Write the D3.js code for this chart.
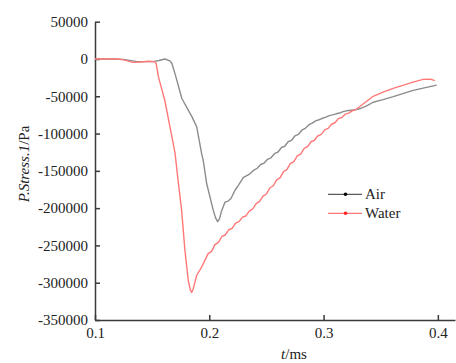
<!DOCTYPE html>
<html>
<head>
<meta charset="utf-8">
<script src="https://cdn.jsdelivr.net/npm/d3@7"></script>
<style>
  body { margin: 0; background: #fff; }
</style>
</head>
<body>
<script>
// air series (gray)
var airT = [0.100, 0.115, 0.125, 0.137, 0.151, 0.156, 0.1612, 0.1656, 0.1673, 0.1708, 0.176, 0.1816, 0.185, 0.189, 0.1933, 0.1947, 0.1977, 0.2035, 0.2055, 0.2073, 0.209, 0.2105,
            0.2137, 0.2165, 0.219, 0.2225, 0.226, 0.2297, 0.232, 0.2356, 0.239, 0.242, 0.245, 0.248, 0.251, 0.254, 0.257, 0.260, 0.263, 0.266, 0.269, 0.272, 0.275, 0.278,
            0.281, 0.284, 0.287, 0.290, 0.293, 0.296, 0.299, 0.302, 0.305, 0.308, 0.311, 0.314, 0.317, 0.320, 0.3283, 0.333, 0.3377, 0.3434, 0.352, 0.361, 0.370, 0.3784, 0.390, 0.399];
var airP = [0, 0, -500, -3600, -3600, -2000, 0, -2500, -6000, -24000, -53000, -68500, -78000, -91000, -127000, -136000, -167000, -203000, -213000, -218000, -214000, -205000,
            -192000, -190500, -187000, -176000, -168000, -159000, -157000, -154000, -149000, -146500, -141500, -139500, -134500, -132500, -127000, -125000, -119000, -117000, -111000, -109000, -103000, -101000,
            -95500, -93000, -88500, -86000, -83000, -81500, -79500, -78000, -76000, -75000, -73500, -72500, -70500, -69500, -68000, -66000, -63000, -58000, -54500, -50500, -46000, -42000, -38000, -35000];

// water series (red)
var waterT = [0.100, 0.120, 0.126, 0.133, 0.140, 0.147, 0.152, 0.1535, 0.1555, 0.161, 0.1656, 0.170, 0.1725, 0.1758, 0.1787, 0.1816, 0.1835, 0.1846, 0.186, 0.189, 0.1933,
              0.199, 0.202, 0.205, 0.208, 0.211, 0.214, 0.217, 0.220, 0.223, 0.226, 0.229, 0.232, 0.235, 0.238, 0.241, 0.244, 0.247, 0.250, 0.253, 0.256, 0.259, 0.262,
              0.265, 0.268, 0.271, 0.274, 0.277, 0.280, 0.283, 0.286, 0.289, 0.292, 0.295, 0.298, 0.301, 0.304, 0.307, 0.310, 0.313, 0.316, 0.319, 0.322, 0.325, 0.328,
              0.334, 0.340, 0.3434, 0.352, 0.3609, 0.370, 0.3784, 0.3871, 0.3935, 0.3974];
var waterP = [0, 0, -1500, -4500, -4000, -3000, -3500, -6000, -24000, -55000, -91000, -126000, -160000, -203000, -257000, -297000, -310000, -313000, -308000, -290000, -279000,
              -261000, -258000, -249000, -246000, -238000, -236000, -229000, -227000, -220000, -218000, -212000, -210500, -204000, -201000, -194000, -191000, -184000, -181000, -173000, -170000, -162000, -159000,
              -151000, -148000, -140000, -137500, -130000, -127500, -120000, -117500, -111000, -109000, -103000, -101000, -95000, -93000, -87500, -85500, -80000, -78500, -74000, -72500, -69500, -68000,
              -61000, -54000, -50000, -44500, -39400, -35000, -31000, -27300, -27000, -29000];

var xTicks = [0.1, 0.2, 0.3, 0.4];
var yTicks = [50000, 0, -50000, -100000, -150000, -200000, -250000, -300000, -350000];
var seriesNames = ["Air", "Water"];
var seriesColors = ["#8c8c8c", "#ff7878"];
var legendColors = ["#333333", "#ff5555"];
var legendDots = ["#000000", "#ff2020"];

var serif = "'Liberation Serif', 'Times New Roman', 'DejaVu Serif', serif";

var w = 456, h = 363;
var svg = d3.select("body")
            .append("svg")
            .attr("width", w)
            .attr("height", h);

var x = d3.scaleLinear().domain([0.1, 0.415]).range([95, 455]);
var y = d3.scaleLinear().domain([-350000, 50000]).range([320, 21.7]);

var xAxis = svg.append("g")
    .attr("transform", "translate(0,320)")
    .call(d3.axisBottom(x).tickValues(xTicks).tickFormat(d3.format(".1f"))
        .tickSizeInner(-5).tickSizeOuter(0).tickPadding(7.5));

var yAxis = svg.append("g")
    .attr("transform", "translate(95,0)")
    .call(d3.axisLeft(y).tickValues(yTicks)
        .tickFormat(function(d) { return String(d); })
        .tickSizeInner(-5).tickSizeOuter(0).tickPadding(7));

[xAxis, yAxis].forEach(function(g) {
    g.selectAll("path, line").attr("stroke", "#3a3a3a").attr("stroke-width", 1.5);
    g.selectAll("text")
        .style("font-family", serif)
        .style("font-size", "15px")
        .attr("fill", "#222");
});

var line = d3.line()
    .x(function(d) { return x(d[0]); })
    .y(function(d) { return y(d[1]); });

var series = [d3.zip(airT, airP), d3.zip(waterT, waterP)];

svg.selectAll("path.series")
    .data(series)
    .enter()
    .append("path")
    .attr("class", "series")
    .attr("d", line)
    .attr("fill", "none")
    .attr("stroke", function(d, i) { return seriesColors[i]; })
    .attr("stroke-width", 1.4)
    .attr("stroke-linejoin", "round");

// legend
var legend = svg.selectAll("g.legend")
    .data(seriesNames)
    .enter()
    .append("g")
    .attr("class", "legend")
    .attr("transform", function(d, i) {
        return "translate(328," + (194.3 + i * 19) + ")";
    });

legend.append("line")
    .attr("x1", 0).attr("x2", 34)
    .attr("stroke", function(d, i) { return legendColors[i]; })
    .attr("stroke-width", 1);

legend.append("circle")
    .attr("cx", 17.5).attr("r", 1.8)
    .attr("fill", function(d, i) { return legendDots[i]; });

legend.append("text")
    .attr("x", 37).attr("y", 5)
    .style("font-family", serif)
    .style("font-size", "15px")
    .attr("fill", "#222")
    .text(function(d) { return d; });

// axis titles
var xt = svg.append("text")
    .attr("x", 294).attr("y", 359)
    .attr("text-anchor", "middle")
    .style("font-family", serif)
    .style("font-size", "15px")
    .attr("fill", "#222");
xt.append("tspan").attr("font-style", "italic").text("t");
xt.append("tspan").text("/ms");

var yt = svg.append("text")
    .attr("transform", "translate(29,164) rotate(-90)")
    .attr("text-anchor", "middle")
    .style("font-family", serif)
    .style("font-size", "15px")
    .attr("fill", "#222");
yt.append("tspan").attr("font-style", "italic").text("P.Stress.1");
yt.append("tspan").text("/Pa");
</script>
</body>
</html>
